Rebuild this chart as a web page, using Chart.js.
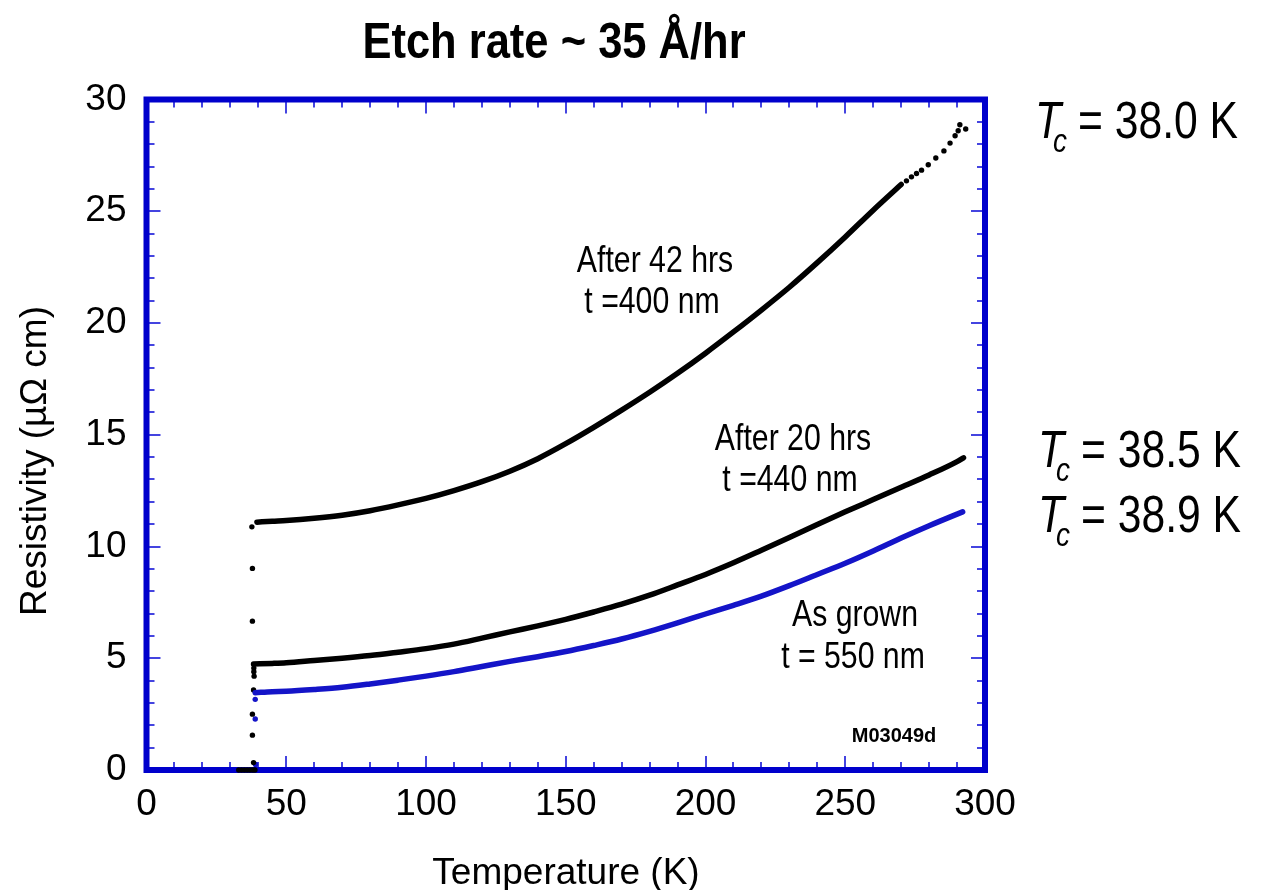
<!DOCTYPE html>
<html>
<head>
<meta charset="utf-8">
<script src="https://cdn.jsdelivr.net/npm/chart.js@4.4.1/dist/chart.umd.min.js"></script>
<style>
  html, body { margin: 0; background: #fff; }
  #wrap { width: 1264px; height: 890px; }
</style>
</head>
<body>
<div id="wrap"><canvas id="chart" width="1264" height="890"></canvas></div>
<script>
// Resistivity vs temperature, MgB2 film etched in steps.
const tAfter42 = [39.5, 45, 50, 60, 70, 80, 90, 100, 110, 120, 130, 140, 150, 160, 170, 180, 190, 200, 210, 220, 230, 240, 250, 260, 270];
const rAfter42 = [11.09, 11.13, 11.16, 11.26, 11.4, 11.6, 11.86, 12.15, 12.5, 12.9, 13.37, 13.93, 14.6, 15.33, 16.1, 16.9, 17.75, 18.65, 19.6, 20.58, 21.6, 22.7, 23.85, 25.05, 26.2];
// sparse dots at the hot end of the 42 hr run
const tTail42 = [271.9, 273.7, 275.5, 277.3, 279.7, 282.4, 285.3, 287.5, 289.3, 290.4, 291.0, 293.1];
const rTail42 = [26.36, 26.54, 26.69, 26.84, 27.08, 27.38, 27.7, 28.05, 28.38, 28.6, 28.87, 28.68];

const tAfter20 = [38.3, 45, 50, 60, 70, 80, 90, 100, 110, 120, 130, 140, 150, 160, 170, 180, 190, 200, 210, 220, 230, 240, 250, 260, 270, 280, 290, 292.3];
const rAfter20 = [4.74, 4.77, 4.8, 4.9, 5.0, 5.12, 5.27, 5.43, 5.63, 5.9, 6.18, 6.45, 6.74, 7.07, 7.42, 7.82, 8.28, 8.75, 9.27, 9.83, 10.4, 10.98, 11.55, 12.1, 12.65, 13.2, 13.8, 13.97];

const tGrown = [38.9, 45, 50, 60, 70, 80, 90, 100, 110, 120, 130, 140, 150, 160, 170, 180, 190, 200, 210, 220, 230, 240, 250, 260, 270, 280, 290, 292];
const rGrown = [3.46, 3.5, 3.52, 3.6, 3.7, 3.85, 4.02, 4.2, 4.4, 4.63, 4.86, 5.07, 5.3, 5.57, 5.86, 6.2, 6.58, 6.98, 7.37, 7.78, 8.25, 8.75, 9.25, 9.8, 10.38, 10.93, 11.45, 11.55];

// superconducting transition points
const tDropBlack = [37.7, 37.9, 37.9, 38.4, 38.4, 38.5, 38.3, 37.9, 37.9, 38.3, 33, 34, 35, 36, 37, 38, 38.8];
const rDropBlack = [10.88, 9.02, 6.66, 4.56, 4.4, 4.2, 3.58, 2.5, 1.56, 0.33, 0, 0, 0, 0, 0, 0, 0];
const tDropBlue = [38.9, 38.9, 39.0];
const rDropBlue = [3.16, 2.28, 0.25];

const xTicksMajor = 50;
const yTicksMajor = 5;

const BLUE = '#0000CC';
const ARIAL = '"Liberation Sans", Arial, sans-serif';

const pts = (xs, ys) => xs.map((x, i) => ({ x, y: ys[i] }));

const curve = (label, xs, ys, color) => ({
  label, data: pts(xs, ys), borderColor: color, backgroundColor: color,
  borderWidth: 5.5, borderCapStyle: 'round', borderJoinStyle: 'round',
  pointRadius: 0, showLine: true, cubicInterpolationMode: 'monotone',
});
const dots = (label, xs, ys, color, r) => ({
  label, data: pts(xs, ys), borderColor: color, backgroundColor: color,
  borderWidth: 0, pointRadius: r, showLine: false, clip: false,
});

// condensed text: Liberation Sans squeezed horizontally
function narrow(ctx, text, x, y, font, sx, align) {
  ctx.save();
  ctx.translate(x, y);
  ctx.scale(sx, 1);
  ctx.font = font;
  ctx.textAlign = align || 'center';
  ctx.fillText(text, 0, 0);
  ctx.restore();
}

const frameTicks = {
  id: 'frameTicks',
  beforeDatasetsDraw(chart) {
    const { ctx, chartArea: a, scales: { x, y } } = chart;
    ctx.save();
    ctx.strokeStyle = '#4444E0';
    ctx.lineWidth = 2;
    ctx.beginPath();
    x.ticks.forEach(t => {
      const px = Math.round(x.getPixelForValue(t.value));
      const len = t.value % xTicksMajor === 0 ? 14 : 8;
      ctx.moveTo(px, a.bottom); ctx.lineTo(px, a.bottom - len);
      ctx.moveTo(px, a.top); ctx.lineTo(px, a.top + len);
    });
    y.ticks.forEach(t => {
      const py = Math.round(y.getPixelForValue(t.value));
      const len = t.value % yTicksMajor === 0 ? 14 : 8;
      ctx.moveTo(a.left, py); ctx.lineTo(a.left + len, py);
      ctx.moveTo(a.right, py); ctx.lineTo(a.right - len, py);
    });
    ctx.stroke();
    ctx.strokeStyle = BLUE;
    ctx.lineWidth = 6;
    ctx.strokeRect(a.left, a.top, a.right - a.left, a.bottom - a.top);
    ctx.restore();
  },
  afterDraw(chart) {
    const { ctx } = chart;
    ctx.save();
    ctx.fillStyle = '#000';
    ctx.textBaseline = 'alphabetic';

    narrow(ctx, 'Etch rate ~ 35 Å/hr', 554, 58, `bold 50px ${ARIAL}`, 0.87);

    ctx.textAlign = 'center';
    ctx.font = `37px ${ARIAL}`;
    ctx.fillText('Temperature (K)', 566, 884);
    ctx.save();
    ctx.translate(46, 461);
    ctx.rotate(-Math.PI / 2);
    ctx.fillText('Resistivity (µΩ cm)', 0, 0);
    ctx.restore();

    const ann = `36px ${ARIAL}`;
    narrow(ctx, 'After 42 hrs', 655, 272, ann, 0.84);
    narrow(ctx, 't =400 nm', 652, 313, ann, 0.84);
    narrow(ctx, 'After 20 hrs', 793, 450, ann, 0.84);
    narrow(ctx, 't =440 nm', 790, 491, ann, 0.84);
    narrow(ctx, 'As grown', 855, 626, ann, 0.84);
    narrow(ctx, 't = 550 nm', 853, 668, ann, 0.84);

    ctx.textAlign = 'center';
    ctx.font = `bold 20px ${ARIAL}`;
    ctx.fillText('M03049d', 894, 742);

    const tc = (x0, base, txt) => {
      narrow(ctx, 'T', x0, base, `italic 52px ${ARIAL}`, 0.82, 'left');
      narrow(ctx, 'c', x0 + 18, base + 14, `italic 34px ${ARIAL}`, 0.82, 'left');
      narrow(ctx, '= ' + txt, x0 + 43, base, `52px ${ARIAL}`, 0.82, 'left');
    };
    tc(1035, 138, '38.0 K');
    tc(1038, 467, '38.5 K');
    tc(1038, 532, '38.9 K');
    ctx.restore();
  },
};

new Chart(document.getElementById('chart'), {
  type: 'scatter',
  data: {
    datasets: [
      curve('After 42 hrs', tAfter42, rAfter42, '#000'),
      dots('After 42 hrs tail', tTail42, rTail42, '#000', 2.7),
      curve('After 20 hrs', tAfter20, rAfter20, '#000'),
      curve('As grown', tGrown, rGrown, '#1414C8'),
      dots('Transition', tDropBlack, rDropBlack, '#000', 2.7),
      dots('Transition grown', tDropBlue, rDropBlue, '#1414C8', 2.7),
    ],
  },
  options: {
    responsive: false,
    animation: false,
    layout: { padding: { top: 99.5, right: 279, left: 0, bottom: 0 } },
    plugins: { legend: { display: false }, tooltip: { enabled: false } },
    scales: {
      x: {
        type: 'linear', min: 0, max: 300,
        grid: { display: false }, border: { display: false },
        ticks: {
          stepSize: 10, autoSkip: false, maxRotation: 0, padding: 5, color: '#000',
          font: { family: ARIAL, size: 37 },
          callback: v => (v % xTicksMajor === 0 ? v : ''),
        },
        afterFit: s => { s.height = 120; },
      },
      y: {
        type: 'linear', min: 0, max: 30,
        grid: { display: false }, border: { display: false },
        ticks: {
          stepSize: 1, autoSkip: false, padding: 12, color: '#000',
          font: { family: ARIAL, size: 37 },
          callback: v => (v % yTicksMajor === 0 ? v : ''),
        },
        afterFit: s => { s.width = 146.5; },
      },
    },
  },
  plugins: [frameTicks],
});
</script>
</body>
</html>
